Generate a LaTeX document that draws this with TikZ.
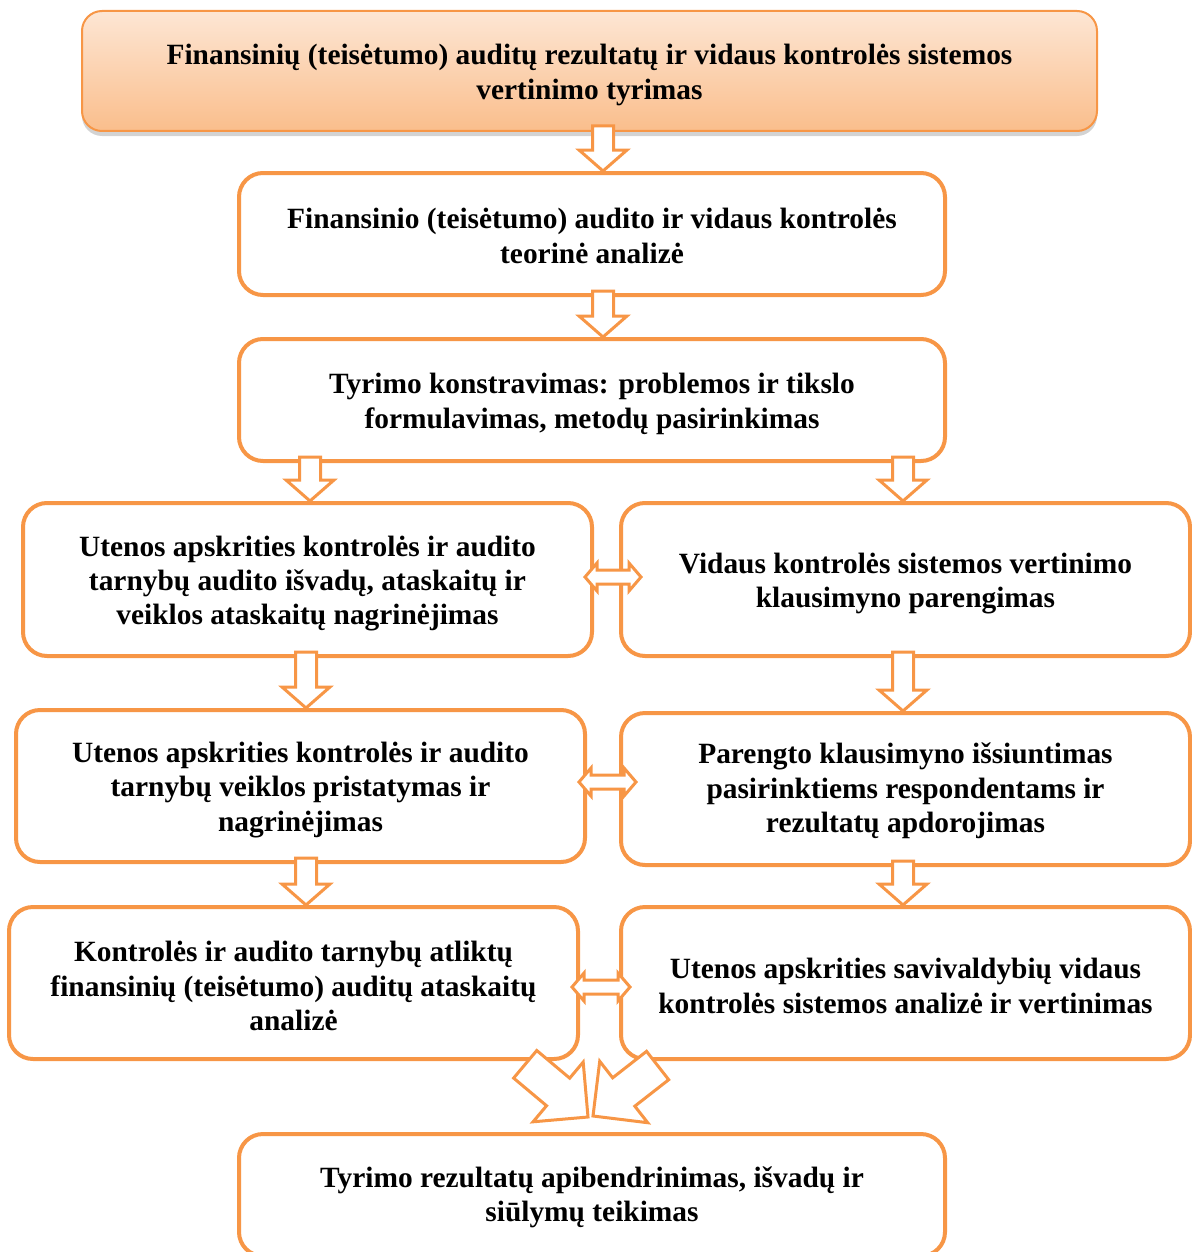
\documentclass[tikz,border=0pt]{standalone}
\usepackage{fontspec}
\setmainfont{Liberation Serif}
\usetikzlibrary{calc,shadows}
\definecolor{org}{RGB}{247,150,70}
\definecolor{gtop}{RGB}{253,230,212}
\definecolor{gbot}{RGB}{250,190,140}
\tikzset{
  box/.style={draw=org, line width=2pt, rounded corners=12pt, fill=white, inner sep=0pt},
  topbox/.style={draw=org, line width=1pt, rounded corners=10pt,
    top color=gtop, bottom color=gbot, inner sep=0pt,
    drop shadow={opacity=0.35, shadow xshift=0pt, shadow yshift=-2.5pt}},
  txt/.style={align=center, font=\fontsize{14.7}{17.2}\selectfont\bfseries, inner sep=0pt},
  barrow/.style={draw=org, line width=1.5pt, fill=white, line join=miter}
}
\newcommand\DArrow[3]{%
  \path (#1,0) coordinate (ax);
  \path ($(#2.south -| ax)+(0,-6)$) coordinate (T) ($(#3.north -| ax)$) coordinate (B);
  \draw[barrow] ($(T)+(-10.5,0)$) -- ($(T)+(10.5,0)$) -- ($(B)+(10.5,-21)$) -- ($(B)+(24,-21)$)
    -- (B) -- ($(B)+(-24,-21)$) -- ($(B)+(-10.5,-21)$) -- cycle;}
\newcommand\HArrow[2]{%
  \path #1 coordinate (A) #2 coordinate (C);
  \draw[barrow] (A) -- ($(A)+(12,-14)$) -- ($(A)+(12,-7)$) -- ($(C)+(-12,-7)$) -- ($(C)+(-12,-14)$)
    -- (C) -- ($(C)+(-12,14)$) -- ($(C)+(-12,7)$) -- ($(A)+(12,7)$) -- ($(A)+(12,14)$) -- cycle;}
\begin{document}
\begin{tikzpicture}[x=0.5pt,y=-0.5pt]
\useasboundingbox (0,0) rectangle (1192,1252);
\node[topbox, minimum width=507.5pt, minimum height=60pt] (b1) at (589.5,71) {};
\node[box, minimum width=353pt, minimum height=61pt] (b2) at (592,234) {};
\node[box, minimum width=353pt, minimum height=61pt] (b3) at (592,400) {};
\node[box, minimum width=284.5pt, minimum height=76.5pt] (l1) at (307.5,579.5) {};
\node[box, minimum width=284.5pt, minimum height=76.5pt] (r1) at (905.5,579.5) {};
\node[box, minimum width=284.5pt, minimum height=76pt] (l2) at (300.5,786) {};
\node[box, minimum width=284.5pt, minimum height=76pt] (r2) at (905.5,789) {};
\node[box, minimum width=284.5pt, minimum height=76pt] (l3) at (293.5,983) {};
\node[box, minimum width=284.5pt, minimum height=76pt] (r3) at (905.5,983) {};
\node[box, minimum width=353pt, minimum height=61pt] (b4) at (592,1195) {};
% texts
\node[txt] (t1) at ([yshift=-2pt]b1.center)
  {Finansinių (teisėtumo) auditų rezultatų ir vidaus kontrolės sistemos\\ vertinimo tyrimas};
\node[txt] (t2) at ([yshift=-1pt]b2.center)
  {Finansinio (teisėtumo) audito ir vidaus kontrolės\\ teorinė analizė};
\node[txt] (t3) at ([yshift=-2pt]b3.center)
  {Tyrimo konstravimas: problemos ir tikslo\\ formulavimas, metodų pasirinkimas};
\node[txt] (tl1) at ([yshift=-2pt]l1.center)
  {Utenos apskrities kontrolės ir audito\\ tarnybų audito išvadų, ataskaitų ir\\ veiklos ataskaitų nagrinėjimas};
\node[txt] (tr1) at ([yshift=-2pt]r1.center)
  {Vidaus kontrolės sistemos vertinimo\\ klausimyno parengimas};
\node[txt] (tl2) at ([yshift=-2pt]l2.center)
  {Utenos apskrities kontrolės ir audito\\ tarnybų veiklos pristatymas ir\\ nagrinėjimas};
\node[txt] (tr2) at ([yshift=-1pt]r2.center)
  {Parengto klausimyno išsiuntimas\\ pasirinktiems respondentams ir\\ rezultatų apdorojimas};
\node[txt] (tl3) at ([yshift=-1.5pt]l3.center)
  {Kontrolės ir audito tarnybų atliktų\\ finansinių (teisėtumo) auditų ataskaitų\\ analizė};
\node[txt] (tr3) at ([yshift=-1.5pt]r3.center)
  {Utenos apskrities savivaldybių vidaus\\ kontrolės sistemos analizė ir vertinimas};
\node[txt] (t4) at ([yshift=-1pt]b4.center)
  {Tyrimo rezultatų apibendrinimas, išvadų ir\\ siūlymų teikimas};
% vertical block arrows
\DArrow{603}{b1}{b2}
\DArrow{603}{b2}{b3}
\DArrow{310}{b3}{l1}
\DArrow{903}{b3}{r1}
\DArrow{306}{l1}{l2}
\DArrow{903}{r1}{r2}
\DArrow{306}{l2}{l3}
\DArrow{903}{r2}{r3}
% double arrows
\HArrow{($(l1.east |- 0,577)+(-9,0)$)}{($(r1.west |- 0,577)+(22,0)$)}
\HArrow{($(l2.east |- 0,782)+(-8,0)$)}{($(r2.west |- 0,782)+(17,0)$)}
\HArrow{($(l3.east |- 0,987)+(-8,0)$)}{($(r3.west |- 0,987)+(11,0)$)}
% diagonal arrows into final box
\begin{scope}[shift={(588,1117)}, rotate=-40]
\draw[barrow] (-82,-18) -- (-39,-18) -- (-39,-39) -- (0,0) -- (-39,39) -- (-39,18) -- (-82,18) -- cycle;
\end{scope}
\begin{scope}[shift={(593,1116)}, rotate=-142]
\draw[barrow] (-82,-18) -- (-39,-18) -- (-39,-39) -- (0,0) -- (-39,39) -- (-39,18) -- (-82,18) -- cycle;
\end{scope}
\end{tikzpicture}
\end{document}
